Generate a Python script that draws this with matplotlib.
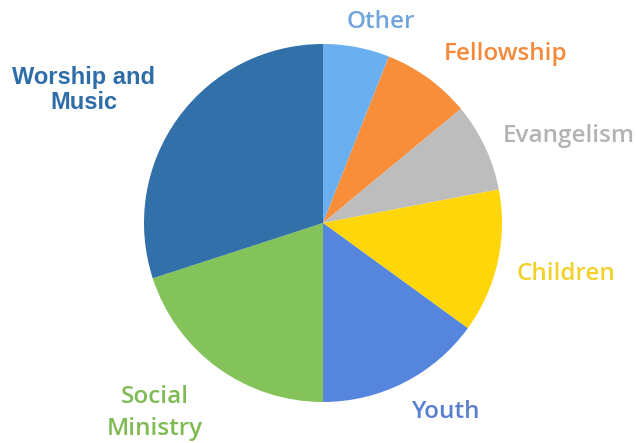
import matplotlib.pyplot as plt

# budget shares by ministry area (percent), clockwise from the top
labels = ['Other', 'Fellowship', 'Evangelism', 'Children', 'Youth',
          'Social\nMinistry', 'Worship and\nMusic']
shares = [6, 8, 8, 13, 15, 20, 30]
colors = ['#6AAFEF', '#F98E3A', '#BDBDBD', '#FFD60A', '#5585DD',
          '#84C25A', '#3170A8']
text_colors = ['#72A6DA', '#F4893A', '#B3B3B3', '#F2D12A', '#5A7FD0',
               '#7FBB55', '#2E6DA8']

W, H = 636, 443
fig = plt.figure(figsize=(W / 100, H / 100), dpi=100)
ax = fig.add_axes([0, 0, 1, 1])
ax.set_xlim(0, W)
ax.set_ylim(0, H)
ax.set_aspect('equal')
ax.axis('off')

ax.pie(shares, colors=colors, startangle=90, counterclock=False,
       center=(323, H - 223), radius=179, frame=True,
       wedgeprops={'linewidth': 0})
ax.axis('off')

# label positions in pixel coords (x, y from top)
pos = [(381, 22), (506, 54), (569, 136), (566, 274), (446, 412),
       (155, 413), (84, 90)]
for i, (lab, (x, y)) in enumerate(zip(labels, pos)):
    if i == 6:
        ax.text(x, H - y, lab, ha='center', va='center', color=text_colors[i],
                fontsize=17, fontweight='bold', family='Liberation Sans',
                linespacing=1.1)
    else:
        ax.text(x, H - y, lab, ha='center', va='center', color=text_colors[i],
                fontsize=17.5, fontweight='semibold', family='Open Sans',
                linespacing=1.45)

fig.savefig('out.png', dpi=100)
